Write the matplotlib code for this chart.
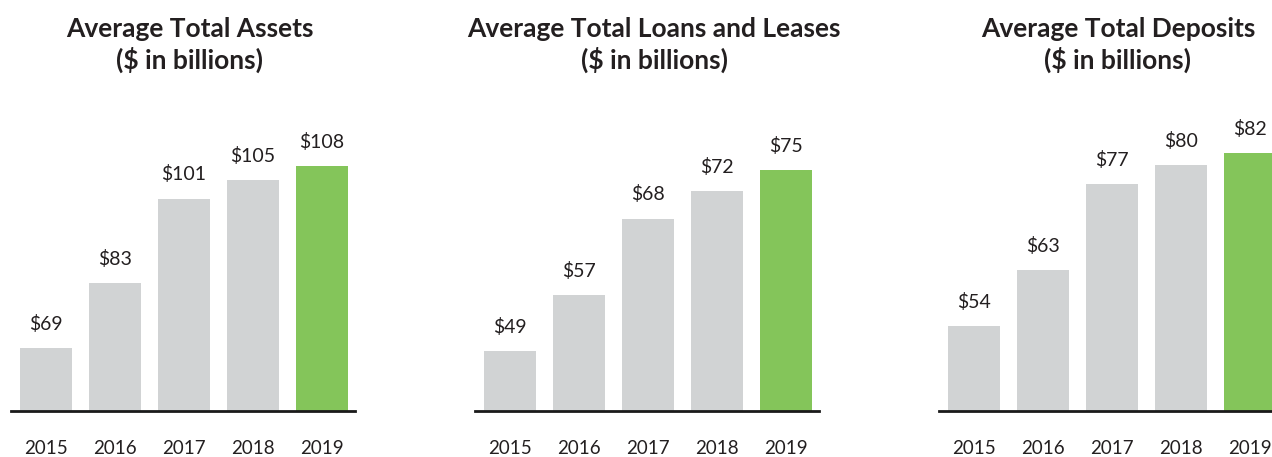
import matplotlib
matplotlib.use('Agg')
import matplotlib.pyplot as plt

# data
years = ['2015', '2016', '2017', '2018', '2019']
titles = ['Average Total Assets\n($ in billions)',
          'Average Total Loans and Leases\n($ in billions)',
          'Average Total Deposits\n($ in billions)']
assets = [69, 83, 101, 105, 108]
loans = [49, 57, 68, 72, 75]
deposits = [54, 63, 77, 80, 82]
series = [assets, loans, deposits]

# the reference axes do not start at zero
ylims = [(55.5, 122.1), (40.4, 85.0), (40.3, 90.5)]

grey = '#d1d3d4'
green = '#84c55a'
txt = '#231f20'

plt.rcParams['font.family'] = ['Lato', 'DejaVu Sans']

W, H = 1272, 457
fig = plt.figure(figsize=(W / 100., H / 100.), dpi=100)

left_px = [11, 475, 939]
ax_w = 344
base_px = 411
top_px = 100

for i in range(3):
    ax = fig.add_axes([left_px[i] / W, 1 - base_px / H, ax_w / W, (base_px - top_px) / H])
    vals = series[i]
    x = list(range(len(vals)))
    cols = [grey] * (len(vals) - 1) + [green]
    ax.bar(x, vals, width=0.754, color=cols, zorder=2)
    ax.set_xlim(-0.507, 4.478)
    ax.set_ylim(*ylims[i])
    for xi, v in zip(x, vals):
        ax.annotate('$' + str(v), (xi, v), xytext=(0, 13), textcoords='offset points',
                    ha='center', va='baseline', fontsize=14, color=txt)
    for s in ['top', 'right', 'left']:
        ax.spines[s].set_visible(False)
    ax.spines['bottom'].set_linewidth(2)
    ax.spines['bottom'].set_color('#1a1a1a')
    ax.spines['bottom'].set_zorder(3)
    ax.set_yticks([])
    ax.set_xticks(x)
    ax.set_xticklabels(years, fontsize=13.5, color=txt)
    ax.tick_params(axis='x', length=0, pad=21)
    ax.patch.set_visible(False)
    # title above the panel
    cx = (left_px[i] + ax_w / 2. + 7) / W
    fig.text(cx, 1 - 45. / H, titles[i], ha='center', va='center', fontsize=19,
             fontweight='bold', color=txt, linespacing=1.3)

fig.savefig('out.png', dpi=100)
